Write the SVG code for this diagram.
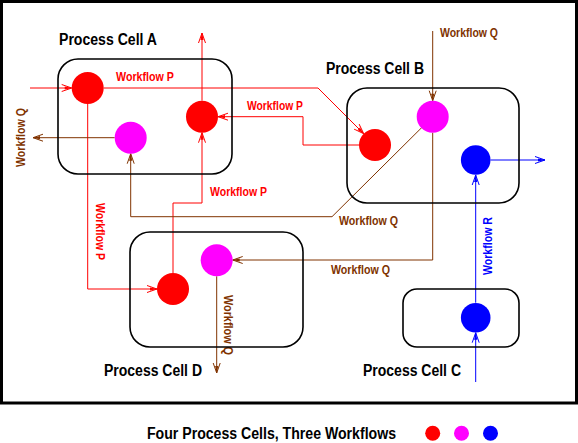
<svg xmlns="http://www.w3.org/2000/svg" width="578" height="443" viewBox="0 0 578 443">
<style>
.cell{fill:none;stroke:#000;stroke-width:1.6}
.title{font-family:"Liberation Sans",Arial,sans-serif;font-weight:bold;font-size:16px;fill:#000}
.lbl{font-family:"Liberation Sans",Arial,sans-serif;font-weight:bold;font-size:12.5px}
.p{stroke:#FF0000;fill:none;stroke-width:1}
.q{stroke:#803300;fill:none;stroke-width:1}
.r{stroke:#0000FF;fill:none;stroke-width:1}
.tp{fill:#FF0000}.tq{fill:#803300}.tr{fill:#0000FF}
.red{fill:#FF0000}.mag{fill:#FF00FF}.blu{fill:#0000FF}
</style>
<defs>
<marker id="aP" markerUnits="userSpaceOnUse" orient="auto" refX="0" refY="0" markerWidth="14" markerHeight="10" viewBox="-12 -5 14 10" overflow="visible">
<path d="M-10,-3.5 L0,0 L-10,3.5" fill="none" stroke="#FF0000" stroke-width="1"/><path d="M-7,-1.6 L0,0 L-7,1.6 Z" fill="#FF0000"/>
</marker>
<marker id="aQ" markerUnits="userSpaceOnUse" orient="auto" refX="0" refY="0" markerWidth="14" markerHeight="10" viewBox="-12 -5 14 10" overflow="visible">
<path d="M-10,-3.5 L0,0 L-10,3.5" fill="none" stroke="#803300" stroke-width="1"/><path d="M-7,-1.6 L0,0 L-7,1.6 Z" fill="#803300"/>
</marker>
<marker id="aR" markerUnits="userSpaceOnUse" orient="auto" refX="0" refY="0" markerWidth="14" markerHeight="10" viewBox="-12 -5 14 10" overflow="visible">
<path d="M-10,-3.5 L0,0 L-10,3.5" fill="none" stroke="#0000FF" stroke-width="1"/><path d="M-7,-1.6 L0,0 L-7,1.6 Z" fill="#0000FF"/>
</marker>
</defs>
<rect x="0" y="0" width="578" height="443" fill="#fff"/>
<rect id="frame" x="1.5" y="1.5" width="575" height="401.5" fill="none" stroke="#000" stroke-width="3"/>

<g id="connectors">
<g id="workflow-P">
<path class="p" d="M30,88 L71.7,88" marker-end="url(#aP)"/>
<path class="p" d="M103.7,88 L318,88 L363.7,133.7" marker-end="url(#aP)"/>
<path class="p" d="M359,145 L303,145 L303,116.7 L218,116.7" marker-end="url(#aP)"/>
<path class="p" d="M202,100.7 L202,33" marker-end="url(#aP)"/>
<path class="p" d="M173,273 L173,203 L202,203 L202,132.7" marker-end="url(#aP)"/>
<path class="p" d="M87.7,104 L87.7,289 L157,289" marker-end="url(#aP)"/>
<text class="lbl tp" x="116" y="81" textLength="58" lengthAdjust="spacingAndGlyphs">Workflow P</text>
<text class="lbl tp" x="247" y="110" textLength="56" lengthAdjust="spacingAndGlyphs">Workflow P</text>
<text class="lbl tp" x="210" y="196" textLength="57" lengthAdjust="spacingAndGlyphs">Workflow P</text>
<text class="lbl tp" transform="translate(95.5,203) rotate(90)" x="0" y="0" textLength="57" lengthAdjust="spacingAndGlyphs">Workflow P</text>
</g>
<g id="workflow-Q">
<path class="q" d="M114.7,137.7 L33,137.7" marker-end="url(#aQ)"/>
<path class="q" d="M432.7,116.7 L332,216.7 L130.7,216.7 L130.7,153.7" marker-end="url(#aQ)"/>
<path class="q" d="M432.7,31 L432.7,100.7" marker-end="url(#aQ)"/>
<path class="q" d="M432.7,132.7 L432.7,260 L232.7,260" marker-end="url(#aQ)"/>
<path class="q" d="M216.7,276.3 L216.7,373" marker-end="url(#aQ)"/>
<text class="lbl tq" x="440" y="37" textLength="58" lengthAdjust="spacingAndGlyphs">Workflow Q</text>
<text class="lbl tq" x="339" y="225" textLength="59" lengthAdjust="spacingAndGlyphs">Workflow Q</text>
<text class="lbl tq" x="331" y="274" textLength="59" lengthAdjust="spacingAndGlyphs">Workflow Q</text>
<text class="lbl tq" transform="translate(25,167) rotate(-90)" x="0" y="0" textLength="59" lengthAdjust="spacingAndGlyphs">Workflow Q</text>
<text class="lbl tq" transform="translate(223.5,295) rotate(90)" x="0" y="0" textLength="60" lengthAdjust="spacingAndGlyphs">Workflow Q</text>
</g>
<g id="workflow-R">
<path class="r" d="M475.7,382 L475.7,332.7" marker-end="url(#aR)"/>
<path class="r" d="M475.7,302.7 L475.7,175" marker-end="url(#aR)"/>
<path class="r" d="M490.5,160 L545,160" marker-end="url(#aR)"/>
<text class="lbl tr" transform="translate(492,275) rotate(-90)" x="0" y="0" textLength="58" lengthAdjust="spacingAndGlyphs">Workflow R</text>
</g>
</g>

<g id="cell-A">
<rect class="cell" x="58" y="59" width="174" height="115" rx="20" ry="20"/>
<text class="title" x="59" y="45" textLength="98" lengthAdjust="spacingAndGlyphs">Process Cell A</text>
<circle class="red" cx="87.7" cy="88" r="16"/>
<circle class="mag" cx="130.7" cy="137.7" r="16"/>
<circle class="red" cx="202" cy="116.7" r="16"/>
</g>
<g id="cell-B">
<rect class="cell" x="347" y="88" width="172" height="115" rx="20" ry="20"/>
<text class="title" x="326" y="74" textLength="98" lengthAdjust="spacingAndGlyphs">Process Cell B</text>
<circle class="mag" cx="432.7" cy="116.7" r="16"/>
<circle class="red" cx="375" cy="145" r="16"/>
<circle class="blu" cx="475.7" cy="160" r="14.8"/>
</g>
<g id="cell-D">
<rect class="cell" x="130" y="232" width="173" height="115" rx="20" ry="20"/>
<text class="title" x="104" y="376" textLength="98" lengthAdjust="spacingAndGlyphs">Process Cell D</text>
<circle class="red" cx="173" cy="289" r="16"/>
<circle class="mag" cx="216.7" cy="260.3" r="16"/>
</g>
<g id="cell-C">
<rect class="cell" x="403" y="289" width="116" height="58" rx="14" ry="14"/>
<text class="title" x="363" y="376" textLength="98" lengthAdjust="spacingAndGlyphs">Process Cell C</text>
<circle class="blu" cx="475.7" cy="317.7" r="14.8"/>
</g>

<g id="legend">
<text class="title" x="147" y="439" textLength="249" lengthAdjust="spacingAndGlyphs">Four Process Cells, Three Workflows</text>
<circle class="red" cx="432.7" cy="433.3" r="7.5"/>
<circle class="mag" cx="461.5" cy="433.3" r="7.5"/>
<circle class="blu" cx="490.5" cy="433.3" r="7.5"/>
</g>
</svg>
